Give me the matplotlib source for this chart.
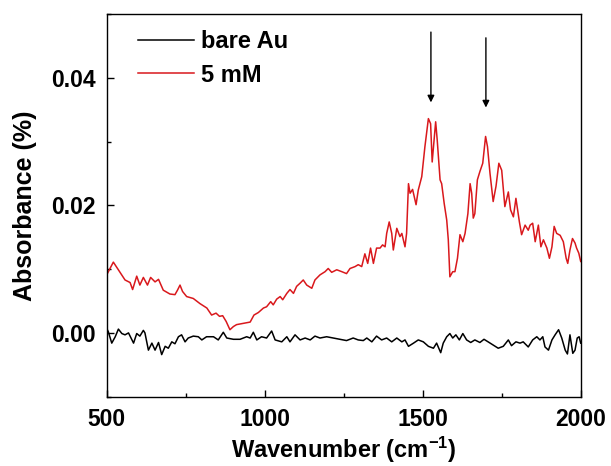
import matplotlib
matplotlib.use("Agg")
import matplotlib.pyplot as plt
from matplotlib.ticker import MultipleLocator

plt.rcParams['font.family'] = ['Liberation Sans', 'DejaVu Sans']
plt.rcParams['font.weight'] = 'bold'
plt.rcParams['mathtext.fontset'] = 'custom'
plt.rcParams['mathtext.rm'] = 'Liberation Sans:bold'
plt.rcParams['mathtext.default'] = 'rm'

# 5 mM spectrum (wavenumber, absorbance)
red_w = [500, 521, 537, 558, 574, 582, 595, 605, 616, 629, 639, 653, 664, 679, 700, 716, 724, 732, 740, 753,
         774, 795, 817, 832, 846, 857, 867, 878, 890, 901, 911, 932, 954, 966, 980, 996, 1006, 1019, 1027, 1038,
         1049, 1057, 1070, 1080, 1091, 1101, 1112, 1122, 1133, 1149, 1159, 1175, 1191, 1201, 1212, 1228, 1244,
         1259, 1270, 1286, 1296, 1307, 1317, 1326, 1335, 1344, 1354, 1365, 1373, 1381, 1386, 1394, 1402, 1407,
         1418, 1428, 1434, 1444, 1449, 1455, 1460, 1468, 1479, 1486, 1497, 1507, 1518, 1525, 1530, 1536, 1541,
         1546, 1555, 1560, 1568, 1576, 1581, 1586, 1595, 1602, 1610, 1618, 1627, 1634, 1643, 1650, 1655, 1660,
         1665, 1673, 1681, 1690, 1699, 1705, 1713, 1723, 1732, 1741, 1750, 1760, 1771, 1778, 1787, 1795, 1806,
         1813, 1824, 1834, 1840, 1848, 1856, 1866, 1874, 1882, 1893, 1901, 1909, 1916, 1924, 1935, 1945, 1954,
         1959, 1966, 1974, 1982, 1987, 1994, 2000]
red_a = [0.0091, 0.0111, 0.0099, 0.0083, 0.0079, 0.0068, 0.0089, 0.0075, 0.0087, 0.0075, 0.0087, 0.0080,
         0.0084, 0.0067, 0.0061, 0.0060, 0.0067, 0.0075, 0.0065, 0.0057, 0.0054, 0.0046, 0.0039, 0.0028, 0.0031,
         0.0026, 0.0027, 0.0018, 0.0005, 0.0010, 0.0013, 0.0015, 0.0017, 0.0028, 0.0032, 0.0039, 0.0041, 0.0049,
         0.0044, 0.0053, 0.0057, 0.0052, 0.0062, 0.0068, 0.0062, 0.0073, 0.0078, 0.0083, 0.0075, 0.0070, 0.0083,
         0.0091, 0.0096, 0.0101, 0.0095, 0.0099, 0.0096, 0.0093, 0.0101, 0.0104, 0.0107, 0.0104, 0.0124, 0.0109,
         0.0133, 0.0109, 0.0133, 0.0133, 0.0138, 0.0135, 0.0156, 0.0174, 0.0156, 0.0130, 0.0164, 0.0151, 0.0156,
         0.0135, 0.0156, 0.0234, 0.0219, 0.0225, 0.0201, 0.0224, 0.0245, 0.0292, 0.0336, 0.0328, 0.0268, 0.0302,
         0.0331, 0.0302, 0.0240, 0.0234, 0.0203, 0.0177, 0.0146, 0.0088, 0.0096, 0.0096, 0.0117, 0.0154, 0.0143,
         0.0156, 0.0187, 0.0234, 0.0219, 0.0180, 0.0187, 0.0240, 0.0253, 0.0266, 0.0308, 0.0292, 0.0250, 0.0206,
         0.0230, 0.0266, 0.0255, 0.0198, 0.0221, 0.0193, 0.0182, 0.0211, 0.0174, 0.0154, 0.0169, 0.0161, 0.0169,
         0.0172, 0.0143, 0.0169, 0.0135, 0.0146, 0.0133, 0.0117, 0.0135, 0.0167, 0.0156, 0.0153, 0.0143, 0.0117,
         0.0109, 0.0130, 0.0148, 0.0141, 0.0133, 0.0125, 0.0112]

# bare Au spectrum
blk_w = [500, 505, 516, 527, 537, 548, 558, 569, 585, 595, 605, 616, 621, 632, 643, 653, 664, 674, 685, 695,
         706, 716, 727, 737, 748, 758, 774, 790, 801, 816, 838, 853, 869, 880, 901, 922, 943, 954, 964, 975,
         990, 1006, 1022, 1033, 1054, 1070, 1080, 1096, 1112, 1128, 1144, 1159, 1175, 1196, 1217, 1238, 1259,
         1280, 1296, 1312, 1323, 1339, 1354, 1370, 1386, 1402, 1418, 1434, 1444, 1455, 1471, 1486, 1502, 1518,
         1534, 1544, 1557, 1565, 1576, 1586, 1595, 1605, 1616, 1627, 1639, 1652, 1665, 1681, 1694, 1707, 1723,
         1739, 1755, 1771, 1781, 1795, 1808, 1818, 1834, 1848, 1861, 1871, 1880, 1887, 1898, 1909, 1919, 1930,
         1940, 1951, 1958, 1966, 1975, 1982, 1989, 1995, 2000]
blk_a = [0.0007, 0.0002, -0.0016, -0.0006, 0.0006, -0.0001, -0.0003, 0.0000, -0.0016, -0.0001, -0.0005,
         0.0004, 0.0000, -0.0027, -0.0016, -0.0027, -0.0015, -0.0034, -0.0021, -0.0024, -0.0014, -0.0017,
         -0.0006, -0.0003, -0.0014, -0.0008, -0.0005, -0.0006, -0.0011, -0.0006, -0.0006, -0.0011, 0.0001,
         -0.0008, -0.0010, -0.0010, -0.0006, -0.0008, 0.0001, -0.0011, -0.0006, -0.0008, 0.0003, -0.0011,
         -0.0014, -0.0006, -0.0014, -0.0003, -0.0011, -0.0008, -0.0011, -0.0005, -0.0008, -0.0006, -0.0008,
         -0.0010, -0.0012, -0.0008, -0.0011, -0.0012, -0.0008, -0.0014, -0.0005, -0.0011, -0.0008, -0.0014,
         -0.0008, -0.0014, -0.0011, -0.0021, -0.0016, -0.0011, -0.0014, -0.0021, -0.0024, -0.0016, -0.0031,
         -0.0016, -0.0006, -0.0001, -0.0008, -0.0003, -0.0011, -0.0001, -0.0011, -0.0015, -0.0011, -0.0015,
         -0.0010, -0.0014, -0.0019, -0.0024, -0.0021, -0.0011, -0.0020, -0.0014, -0.0016, -0.0014, -0.0022,
         -0.0011, -0.0006, -0.0011, -0.0006, -0.0022, -0.0027, -0.0011, -0.0003, 0.0005, -0.0008, -0.0027,
         -0.0033, -0.0003, -0.0032, -0.0027, -0.0008, -0.0006, -0.0016]

# annotation arrows: (wavenumber, tail absorbance, head absorbance)
arrow_w = [1526, 1700]
arrow_top = [0.0476, 0.0467]
arrow_tip = [0.0357, 0.0349]

fig = plt.figure(figsize=(6.11, 4.66), dpi=100)
ax = fig.add_axes([106.7 / 611, 1 - 396.7 / 466, (580.7 - 106.7) / 611, (396.7 - 14) / 466])

ax.plot(blk_w, blk_a, color='black', lw=1.1, label='bare Au')
ax.plot(red_w, red_a, color='#d9181c', lw=1.1, label='5 mM')

for w, t, h in zip(arrow_w, arrow_top, arrow_tip):
    ax.annotate('', xy=(w, h), xytext=(w, t),
                arrowprops=dict(arrowstyle='-|>', color='black', lw=1.0, mutation_scale=10))

ax.set_xlim(500, 2000)
ax.set_ylim(-0.01, 0.05)
ax.xaxis.set_major_locator(MultipleLocator(500))
ax.xaxis.set_minor_locator(MultipleLocator(250))
ax.yaxis.set_minor_locator(MultipleLocator(0.01))
ax.set_yticks([0.0, 0.02, 0.04])
ax.set_yticklabels(['0.00', '0.02', '0.04'])
ax.tick_params(which='both', direction='in', top=False, right=False, labelsize=16.5)
ax.tick_params(axis='x', pad=8)
ax.tick_params(axis='y', pad=8)
ax.tick_params(which='major', length=5, width=1)
ax.tick_params(which='minor', length=3, width=1)
for lbl in ax.get_xticklabels() + ax.get_yticklabels():
    lbl.set_fontweight('bold')
for s in ax.spines.values():
    s.set_linewidth(1.0)

ax.set_xlabel('Wavenumber (cm$^{-1}$)', fontsize=17, fontweight='bold', labelpad=3)
ax.set_ylabel('Absorbance (%)', fontsize=18, fontweight='bold', labelpad=10)

leg = ax.legend(loc='upper left', frameon=False, fontsize=17, handlelength=2.4,
                borderpad=0, borderaxespad=0, bbox_to_anchor=(31 / 474, 1 - 16 / 382.7),
                handletextpad=0.3, labelspacing=0.45)
for t in leg.get_texts():
    t.set_fontweight('bold')

fig.savefig('out.png', dpi=100)
